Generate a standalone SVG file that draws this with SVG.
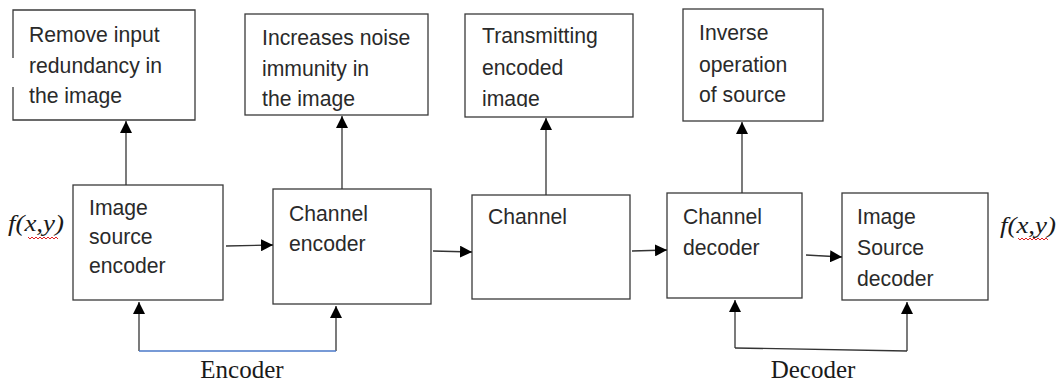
<svg xmlns="http://www.w3.org/2000/svg" width="1058" height="387" viewBox="0 0 1058 387">
<style>
.box{fill:#fff;stroke:#3a3a3a;stroke-width:1.3}
.t{font-family:"Liberation Sans",Arial,sans-serif;font-size:21.2px;fill:#2a2a2a}
.s{font-family:"Liberation Serif","Times New Roman",serif;font-size:25px;fill:#1a1a1a}
.fx{font-family:"Liberation Serif","Times New Roman",serif;font-style:italic;font-size:24px;fill:#1a1a1a}
.c{fill:none;stroke:#333;stroke-width:1.3}
.sq{fill:none;stroke:#e02020;stroke-width:1}
</style>
<defs>
<marker id="ah" markerUnits="userSpaceOnUse" markerWidth="12" markerHeight="12" refX="12" refY="6" orient="auto">
<path d="M0,0 L12,6 L0,12 z" fill="#000"/>
</marker>
<clipPath id="clip3"><rect x="465" y="14" width="168" height="93"/></clipPath>
</defs>

<g id="note-remove">
<path class="box" d="M13,58 V10 H195 V120 H13 V87"/>
<text class="t" x="29" y="42">Remove input</text>
<text class="t" x="29" y="73">redundancy in</text>
<text class="t" x="29" y="103">the image</text>
</g>

<g id="note-noise">
<rect class="box" x="245" y="14" width="183" height="101"/>
<text class="t" x="262" y="45">Increases noise</text>
<text class="t" x="262" y="76">immunity in</text>
<text class="t" x="262" y="106">the image</text>
</g>

<g id="note-transmit">
<rect class="box" x="465" y="14" width="168" height="103"/>
<g clip-path="url(#clip3)">
<text class="t" x="482" y="43">Transmitting</text>
<text class="t" x="482" y="75">encoded</text>
<text class="t" x="482" y="106">image</text>
</g>
</g>

<g id="note-inverse">
<rect class="box" x="683" y="9" width="140" height="112"/>
<text class="t" x="699" y="40">Inverse</text>
<text class="t" x="699" y="72">operation</text>
<text class="t" x="699" y="102">of source</text>
</g>

<g id="image-source-encoder">
<rect class="box" x="73" y="185" width="150" height="115"/>
<text class="t" x="89" y="215">Image</text>
<text class="t" x="89" y="244">source</text>
<text class="t" x="89" y="273">encoder</text>
</g>

<g id="channel-encoder">
<rect class="box" x="273" y="189" width="158" height="115"/>
<text class="t" x="289" y="221">Channel</text>
<text class="t" x="289" y="251">encoder</text>
</g>

<g id="channel">
<rect class="box" x="472" y="195" width="158" height="104"/>
<text class="t" x="488" y="224">Channel</text>
</g>

<g id="channel-decoder">
<rect class="box" x="667" y="193" width="135" height="105"/>
<text class="t" x="683" y="224">Channel</text>
<text class="t" x="683" y="255">decoder</text>
</g>

<g id="image-source-decoder">
<rect class="box" x="842" y="193" width="146" height="107"/>
<text class="t" x="857" y="224">Image</text>
<text class="t" x="857" y="255">Source</text>
<text class="t" x="857" y="286">decoder</text>
</g>

<g id="input-label">
<text class="fx" x="8" y="231" textLength="56" lengthAdjust="spacingAndGlyphs">f(x,y)</text>
<path class="sq" d="M28,237 l2,2 l2,-2 l2,2 l2,-2 l2,2 l2,-2 l2,2 l2,-2 l2,2 l2,-2 l2,2 l2,-2 l2,2 l2,-2 l2,2"/>
</g>

<g id="output-label">
<text class="fx" x="1000" y="233" textLength="56" lengthAdjust="spacingAndGlyphs">f(x,y)</text>
<path class="sq" d="M1018,238 l2,2 l2,-2 l2,2 l2,-2 l2,2 l2,-2 l2,2 l2,-2 l2,2 l2,-2 l2,2 l2,-2 l2,2 l2,-2 l2,2"/>
</g>

<g id="bottom-labels">
<text class="s" x="242" y="378" text-anchor="middle">Encoder</text>
<text class="s" x="813" y="378" text-anchor="middle">Decoder</text>
</g>

<g id="connectors">
<line class="c" x1="126" y1="185" x2="126" y2="121" marker-end="url(#ah)"/>
<line class="c" x1="342" y1="189" x2="342" y2="116" marker-end="url(#ah)"/>
<line class="c" x1="546" y1="195" x2="546" y2="118" marker-end="url(#ah)"/>
<line class="c" x1="742" y1="193" x2="742" y2="122" marker-end="url(#ah)"/>

<line class="c" x1="226" y1="246" x2="273" y2="245" marker-end="url(#ah)"/>
<line class="c" x1="433" y1="251" x2="472" y2="252" marker-end="url(#ah)"/>
<line class="c" x1="632" y1="251" x2="667" y2="250" marker-end="url(#ah)"/>
<line class="c" x1="806" y1="255" x2="842" y2="257" marker-end="url(#ah)"/>

<line class="c" x1="139" y1="351" x2="139" y2="302" marker-end="url(#ah)"/>
<line class="c" x1="336" y1="351" x2="336" y2="306" marker-end="url(#ah)"/>
<line x1="139" y1="351" x2="336" y2="351" stroke="#4a78c8" stroke-width="1.3"/>

<line class="c" x1="735" y1="348" x2="735" y2="300" marker-end="url(#ah)"/>
<line class="c" x1="907" y1="351" x2="907" y2="302" marker-end="url(#ah)"/>
<line class="c" x1="735" y1="348" x2="907" y2="351"/>
</g>
</svg>
